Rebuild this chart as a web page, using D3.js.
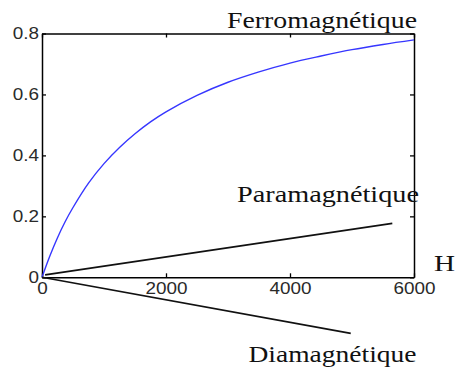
<!DOCTYPE html>
<html>
<head>
<meta charset="utf-8">
<script src="https://cdn.jsdelivr.net/npm/d3@7"></script>
<style>
  html, body { margin: 0; padding: 0; background: #fff; }
  svg { display: block; }
</style>
</head>
<body>
<svg id="chart" width="455" height="367"></svg>
<script>
// Magnetisation M versus field H for three kinds of material
const fieldH   = [0, 125, 250, 375, 500, 750, 1000, 1250, 1500, 1750, 2000, 2500, 3000, 3500, 4000, 4500, 5000, 5500, 6000];
const ferroM   = [0, 0.069, 0.13, 0.183, 0.229, 0.309, 0.373, 0.426, 0.471, 0.51, 0.543, 0.597, 0.64, 0.674, 0.703, 0.726, 0.747, 0.764, 0.779];
const paraH    = [50, 5650];
const paraM    = [0.008, 0.177];
const diaH     = [0, 4980];
const diaM     = [0, -0.184];
const xTicks   = [0, 2000, 4000, 6000];
const yTicks   = [0, 0.2, 0.4, 0.6, 0.8];
const curveNames = ["Ferromagnétique", "Paramagnétique", "Diamagnétique"];
const axisName = "H";

const svg = d3.select("#chart");
const plotL = 42, plotR = 414, plotT = 33.5, plotB = 277.3;

const x = d3.scaleLinear().domain([0, 6000]).range([plotL, plotR]);
const y = d3.scaleLinear().domain([0, 0.8]).range([plotB, plotT]);

const tickFont = "'Liberation Sans', Arial, sans-serif";
const serif = "'Liberation Serif', 'Times New Roman', serif";

// Axes: ticks point inward on all four sides
const gB = svg.append("g").attr("transform", `translate(0,${plotB})`)
  .call(d3.axisBottom(x).tickValues(xTicks).tickSizeInner(-4).tickSizeOuter(0).tickPadding(5).tickFormat(d3.format("d")));
const gL = svg.append("g").attr("transform", `translate(${plotL},0)`)
  .call(d3.axisLeft(y).tickValues(yTicks).tickSizeInner(-4).tickSizeOuter(0).tickPadding(3).tickFormat(d => d === 0 ? "0" : d3.format(".1f")(d)));
const gT = svg.append("g").attr("transform", `translate(0,${plotT})`)
  .call(d3.axisTop(x).tickValues(xTicks).tickSizeInner(-4).tickSizeOuter(0).tickFormat(""));
const gR = svg.append("g").attr("transform", `translate(${plotR},0)`)
  .call(d3.axisRight(y).tickValues(yTicks).tickSizeInner(-4).tickSizeOuter(0).tickFormat(""));

[gB, gL, gT, gR].forEach(g => {
  g.select(".domain").attr("stroke", "#000").attr("stroke-width", 1.5);
  g.selectAll(".tick line").attr("stroke", "#000").attr("stroke-width", 1.3);
  g.selectAll(".tick text")
    .attr("fill", "#2a2a2a")
    .style("font-family", tickFont)
    .style("font-size", "16px");
});
// wide tick lettering
svg.selectAll(".tick text").each(function () {
  const w = this.getComputedTextLength();
  if (w > 0) d3.select(this).attr("textLength", w * 1.18).attr("lengthAdjust", "spacingAndGlyphs");
});

// Curves
const line = d3.line().x(d => x(d[0])).y(d => y(d[1]));

svg.append("path")
  .datum(fieldH.map((h, i) => [h, ferroM[i]]))
  .attr("fill", "none").attr("stroke", "#3636ff").attr("stroke-width", 1.4)
  .attr("d", d3.line().x(d => x(d[0])).y(d => y(d[1])).curve(d3.curveCatmullRom.alpha(0.5)));

svg.append("path")
  .datum(paraH.map((h, i) => [h, paraM[i]]))
  .attr("fill", "none").attr("stroke", "#111").attr("stroke-width", 1.6)
  .attr("d", line);

svg.append("path")
  .datum(diaH.map((h, i) => [h, diaM[i]]))
  .attr("fill", "none").attr("stroke", "#111").attr("stroke-width", 1.6)
  .attr("d", line);

// Serif labels
const labels = [
  { t: curveNames[0], x: 227, y: 27.7, w: 190, s: 23 },
  { t: curveNames[1], x: 237, y: 202.3, w: 182, s: 23 },
  { t: curveNames[2], x: 248.5, y: 361.7, w: 168, s: 23 },
  { t: axisName,      x: 434, y: 271, w: 21, s: 23 }
];
svg.selectAll("text.lbl").data(labels).enter().append("text")
  .attr("class", "lbl")
  .attr("x", d => d.x).attr("y", d => d.y)
  .attr("textLength", d => d.w).attr("lengthAdjust", "spacingAndGlyphs")
  .style("font-family", serif).style("font-size", d => d.s + "px")
  .attr("fill", "#111")
  .text(d => d.t);
</script>
</body>
</html>
